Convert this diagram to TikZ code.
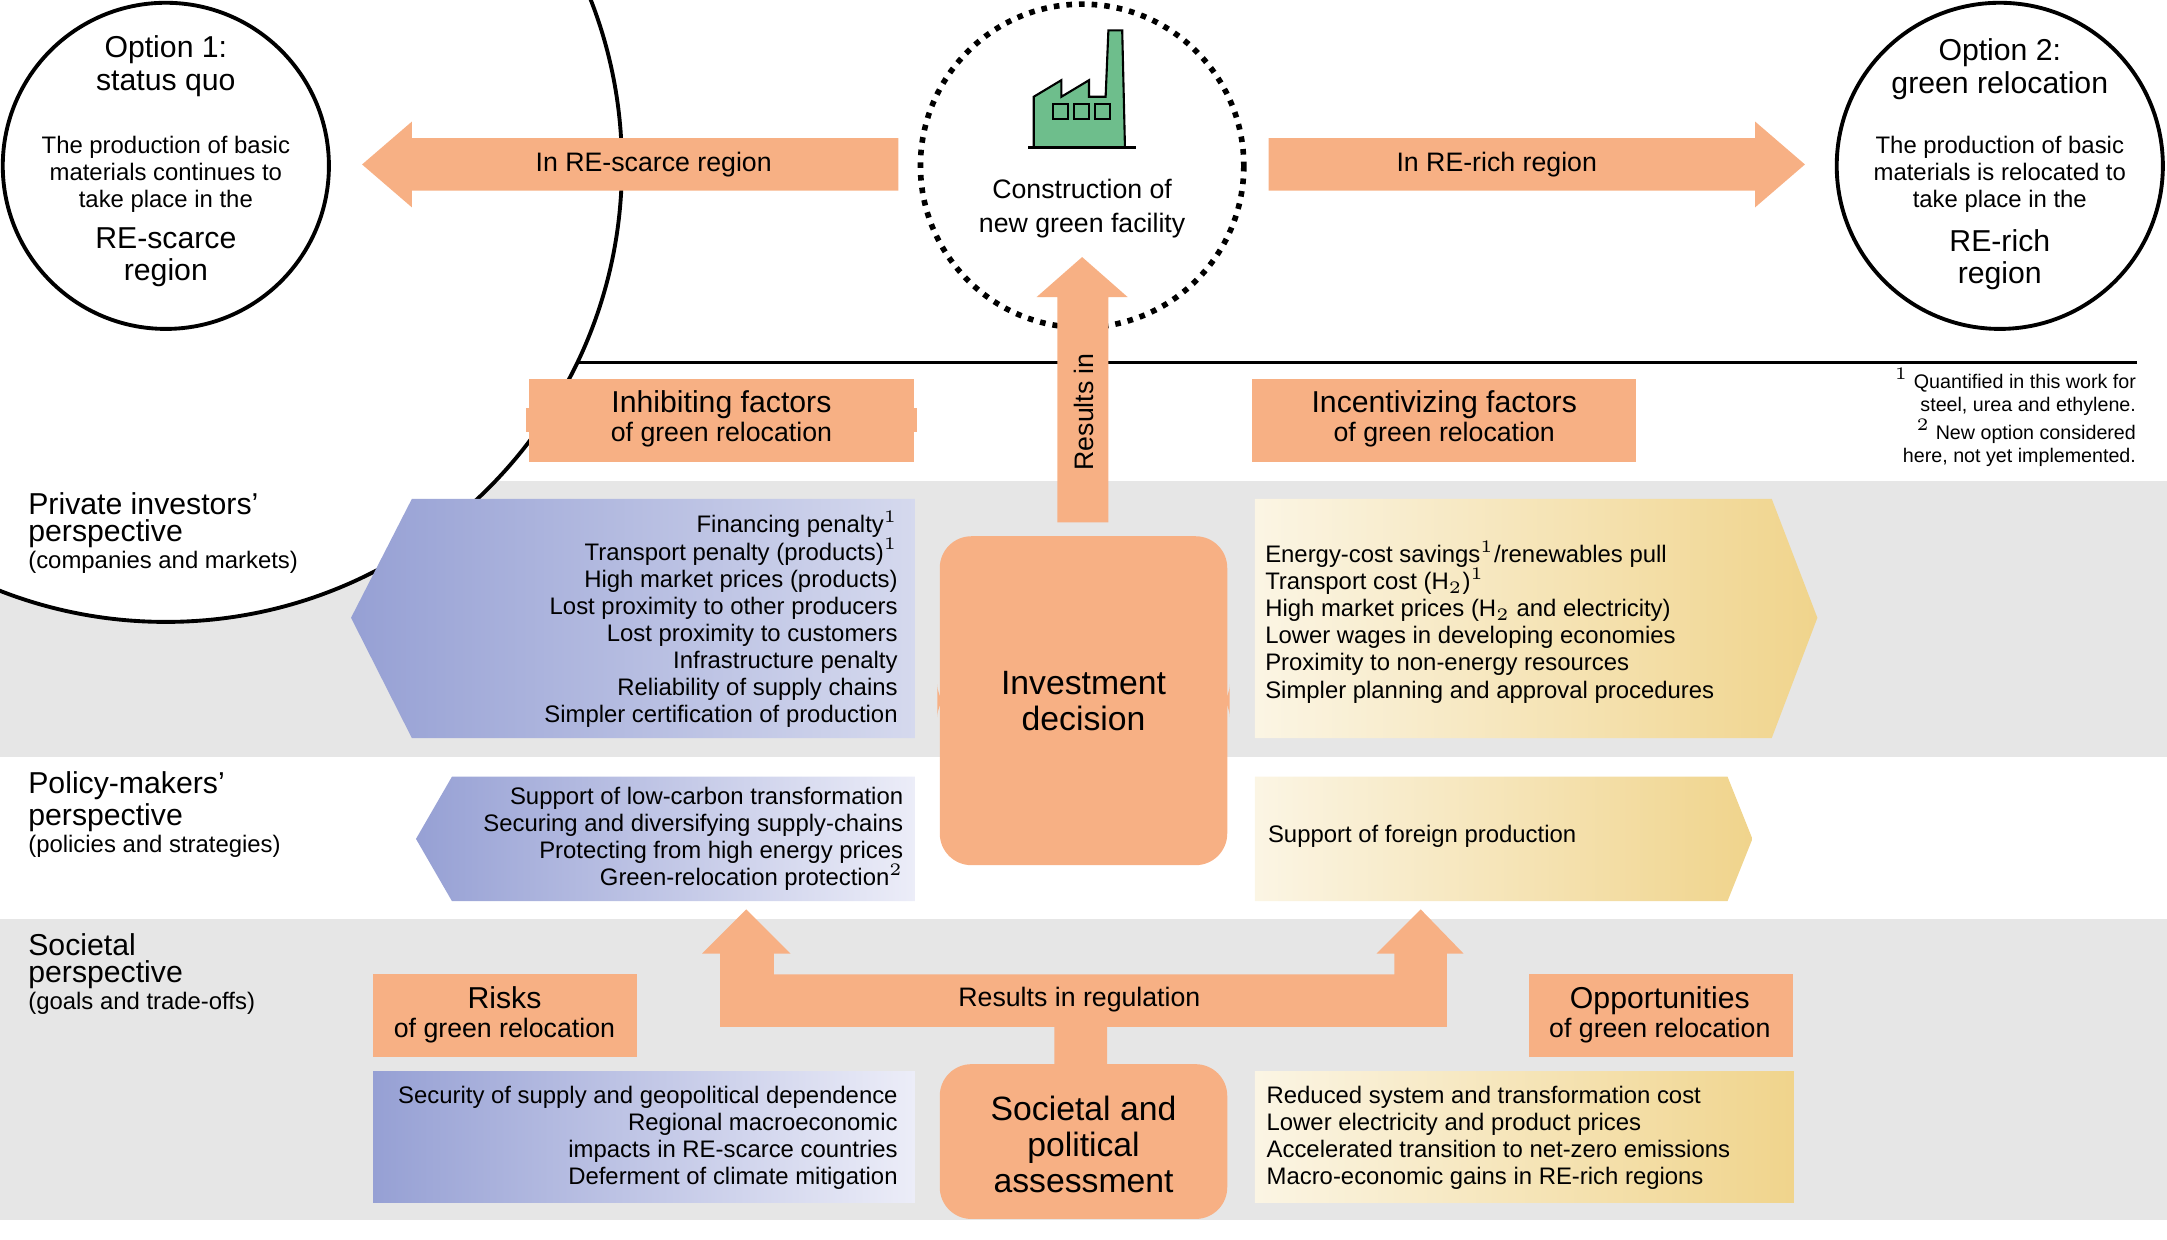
\documentclass[tikz,border=0pt]{standalone}
\usepackage{fontspec}
\setmainfont{Liberation Sans}
\definecolor{orng}{RGB}{247,176,132}
\definecolor{band}{RGB}{230,230,230}
\definecolor{blu}{RGB}{150,160,212}
\definecolor{blul}{RGB}{236,237,248}
\definecolor{yel}{RGB}{240,212,140}
\definecolor{yell}{RGB}{251,245,228}
\definecolor{fgreen}{RGB}{110,190,140}
\tikzset{
  txt/.style={font=\fontsize{6.8}{7.7}\selectfont, inner sep=0pt},
  head/.style={font=\fontsize{8.6}{9.2}\selectfont, inner sep=0pt, align=center},
  big/.style={font=\fontsize{9.6}{10.2}\selectfont, inner sep=0pt, align=center},
  obox/.style={fill=orng, draw=none},
  ring/.style={draw=black, line width=1.1pt, fill=white},
}
\begin{document}
\begin{tikzpicture}[x=0.01382cm, y=-0.01382cm]
\useasboundingbox (0,0) rectangle (1568,897);
% bands
\fill[band] (0,348) rectangle (1568,548);
\fill[band] (0,665) rectangle (1568,883);
\draw[line width=0.8pt] (22,262) -- (1546,262);

% circles
\node (opt1) [ring, circle, minimum size=236\pgflinewidth] at (120,120) {};
\draw[ring] (120,120) circle (118);
\draw[ring] (1447,120) circle (118);
\draw[line width=1.6pt, dotted, fill=white] (783,120) circle (117);
\node[head] at (120,48) {Option 1:\\status quo};
\node[txt, align=center] at (120,126) {The production of basic\\materials continues to\\take place in the};
\node[head] at (120,186) {RE-scarce\\region};
\node[head] at (1447,50) {Option 2:\\green relocation};
\node[txt, align=center] at (1447,126) {The production of basic\\materials is relocated to\\take place in the};
\node[head] at (1447,188) {RE-rich\\region};
\node[txt, align=center, font=\fontsize{7.6}{9.6}\selectfont] (facility) at (783,151) {Construction of\\new green facility};

% factory
\draw[fill=fgreen, line width=0.6pt] (748,107) -- (748,70) -- (768,58) -- (768,70) -- (788,58) -- (788,70) -- (800,70) -- (802,22) -- (812,22) -- (814,107) -- cycle;
\draw[line width=0.8pt] (744,107) -- (822,107);
\foreach \xx in {762,777,792} \draw[fill=fgreen, line width=0.6pt] (\xx,75) rectangle ++(11,11);

% top arrows
\fill[orng] (650,100) -- (298,100) -- (298,88) -- (262,119) -- (298,150) -- (298,138) -- (650,138) -- cycle;
\node[txt, font=\fontsize{7.6}{8}\selectfont] (scarce) at (473,119) {In RE-scarce region};
\fill[orng] (918,100) -- (1270,100) -- (1270,88) -- (1306,119) -- (1270,150) -- (1270,138) -- (918,138) -- cycle;
\node[txt, font=\fontsize{7.6}{8}\selectfont] (rich) at (1083,119) {In RE-rich region};
% results in
\fill[orng] (765,378) -- (765,215) -- (750,215) -- (783,186) -- (816,215) -- (802,215) -- (802,378) -- cycle;
\node[txt, rotate=90, font=\fontsize{7.6}{8}\selectfont] (resin) at (784,298) {Results in};

% headers
\node (inhib) [obox, minimum width=278\pgflinewidth] at (522,304) {};
\fill[orng] (383,274) rectangle (661,334);
\node[head] at (522,303) {Inhibiting factors\\[-1pt]{\fontsize{7.6}{8}\selectfont of green relocation}};
\fill[orng] (906,274) rectangle (1184,334);
\node[head] at (1045,303) {Incentivizing factors\\[-1pt]{\fontsize{7.6}{8}\selectfont of green relocation}};
\fill[orng] (270,705) rectangle (461,765);
\node[head] at (365,734) {Risks\\[-1pt]{\fontsize{7.6}{8}\selectfont of green relocation}};
\fill[orng] (1106,705) rectangle (1297,765);
\node[head] at (1201,734) {Opportunities\\[-1pt]{\fontsize{7.6}{8}\selectfont of green relocation}};

% footnotes
\node[txt, align=right, anchor=north east, font=\fontsize{5.6}{6.6}\selectfont] (fn) at (1546,266) {$^1$ Quantified in this work for\\steel, urea and ethylene.\\$^2$ New option considered\\here, not yet implemented.};

% perspective labels
\node[txt, anchor=north west, align=left] (p1) at (20,356) {{\fontsize{8.6}{9.4}\selectfont Private investors'}\\{\fontsize{8.6}{9.4}\selectfont perspective}\\(companies and markets)};
\node[txt, anchor=north west, align=left] (p2) at (20,558) {{\fontsize{8.6}{9.4}\selectfont Policy-makers'}\\{\fontsize{8.6}{9.4}\selectfont perspective}\\(policies and strategies)};
\node[txt, anchor=north west, align=left] (p3) at (20,675) {{\fontsize{8.6}{9.4}\selectfont Societal}\\{\fontsize{8.6}{9.4}\selectfont perspective}\\(goals and trade-offs)};

% gradient shapes
\shade[left color=blu, right color=blu!40!white] (298,361) -- (662,361) -- (662,534) -- (298,534) -- (254,447) -- cycle;
\shade[left color=yell, right color=yel] (908,361) -- (1282,361) -- (1315,447) -- (1282,534) -- (908,534) -- cycle;
\shade[left color=blu, right color=blul] (327,562) -- (662,562) -- (662,652) -- (327,652) -- (301,607) -- cycle;
\shade[left color=yell, right color=yel] (908,562) -- (1250,562) -- (1268,607) -- (1250,652) -- (908,652) -- cycle;
\shade[left color=blu, right color=blul] (270,775) rectangle (662,870);
\shade[left color=yell, right color=yel] (908,775) rectangle (1298,870);

\node[txt, align=right, anchor=east] (inhibpriv) at (650,448) {Financing penalty$^1$\\Transport penalty (products)$^1$\\High market prices (products)\\Lost proximity to other producers\\Lost proximity to customers\\Infrastructure penalty\\Reliability of supply chains\\Simpler certification of production};
\node[txt, align=left, anchor=west] (incpriv) at (915,450) {Energy-cost savings$^1$/renewables pull\\Transport cost (H$_2$)$^1$\\High market prices (H$_2$ and electricity)\\Lower wages in developing economies\\Proximity to non-energy resources\\Simpler planning and approval procedures};
\node[txt, align=right, anchor=east] (inhibpol) at (654,607) {Support of low-carbon transformation\\Securing and diversifying supply-chains\\Protecting from high energy prices\\Green-relocation protection$^2$};
\node[txt, anchor=west] (incpol) at (917,605) {Support of foreign production};
\node[txt, align=right, anchor=east] (risks) at (650,823) {Security of supply and geopolitical dependence\\Regional macroeconomic\\impacts in RE-scarce countries\\Deferment of climate mitigation};
\node[txt, align=left, anchor=west] (opps) at (916,823) {Reduced system and transformation cost\\Lower electricity and product prices\\Accelerated transition to net-zero emissions\\Macro-economic gains in RE-rich regions};

% regulation arrow
\fill[orng] (521,743) -- (521,690) -- (508,690) -- (540,658) -- (572,690) -- (560,690) -- (560,705) -- (1009,705) -- (1009,690) -- (996,690) -- (1028,658) -- (1059,690) -- (1047,690) -- (1047,743) -- (801,743) -- (801,772) -- (763,772) -- (763,743) -- cycle;
\node[txt, font=\fontsize{7.6}{8}\selectfont] (reg) at (781,723) {Results in regulation};

% central boxes
\node (invest) [obox, rounded corners=8pt, minimum width=208\pgflinewidth] at (784,507) {};
\fill[orng, rounded corners=9pt] (680,388) rectangle (888,626);
\node[big] at (784,507) {Investment\\decision};
\fill[orng, rounded corners=9pt] (680,770) rectangle (888,882);
\node[big] (soc) at (784,828) {Societal and\\political\\assessment};
\end{tikzpicture}
\end{document}
